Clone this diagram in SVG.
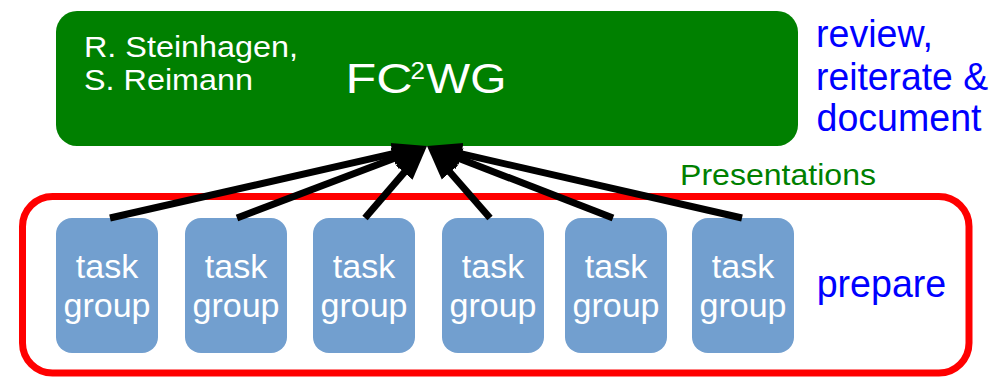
<svg xmlns="http://www.w3.org/2000/svg" width="999" height="377" viewBox="0 0 999 377">
<style>
text { font-family: "Liberation Sans", Arial, sans-serif; }
.white { fill: #ffffff; }
.blue { fill: #0000ff; }
.tg { fill: #729fcf; }
.tgt { fill: #ffffff; font-size: 34px; text-anchor: middle; }
.arrow { stroke: #000000; stroke-width: 7; fill: none; marker-end: url(#head); }
</style>
<defs>
<marker id="head" markerUnits="userSpaceOnUse" markerWidth="36" markerHeight="24" viewBox="0 0 36 24" refX="15" refY="12" orient="auto">
<path d="M0,1 L35,12 L0,23 z" fill="#000000"/>
</marker>
</defs>
<g id="fc2wg">
<rect x="56" y="11" width="742" height="135" rx="21" ry="21" fill="#008000"/>
<text class="white" x="84" y="56.5" font-size="29" textLength="214" lengthAdjust="spacingAndGlyphs">R. Steinhagen,</text>
<text class="white" x="84" y="90" font-size="29" textLength="169" lengthAdjust="spacingAndGlyphs">S. Reimann</text>
<text class="white" x="345.6" y="93" font-size="42" textLength="67" lengthAdjust="spacingAndGlyphs">FC</text>
<text class="white" x="410.5" y="79" font-size="23" textLength="14.5" lengthAdjust="spacingAndGlyphs">2</text>
<text class="white" x="426.3" y="93" font-size="42" textLength="80" lengthAdjust="spacingAndGlyphs">WG</text>
</g>
<g id="review-label">
<text class="blue" x="816" y="47" font-size="39" textLength="117" lengthAdjust="spacingAndGlyphs">review,</text>
<text class="blue" x="816" y="90" font-size="39" textLength="172" lengthAdjust="spacingAndGlyphs">reiterate &amp;</text>
<text class="blue" x="816.5" y="131" font-size="39" textLength="165" lengthAdjust="spacingAndGlyphs">document</text>
</g>
<g id="presentations-label">
<text x="680" y="185" font-size="30" fill="#008000" textLength="196" lengthAdjust="spacingAndGlyphs">Presentations</text>
</g>
<g id="prepare-frame">
<rect x="22.5" y="196.5" width="946.5" height="176.5" rx="30" ry="30" fill="none" stroke="#ff0000" stroke-width="7"/>
<text class="blue" x="816.7" y="297" font-size="39" textLength="129.6" lengthAdjust="spacingAndGlyphs">prepare</text>
</g>
<g id="tg1"><rect class="tg" x="56" y="218" width="102" height="135" rx="16"/><text class="tgt" x="107" y="278">task</text><text class="tgt" x="107" y="317">group</text></g>
<g id="tg2"><rect class="tg" x="185" y="218" width="102" height="135" rx="16"/><text class="tgt" x="236" y="278">task</text><text class="tgt" x="236" y="317">group</text></g>
<g id="tg3"><rect class="tg" x="313" y="218" width="102" height="135" rx="16"/><text class="tgt" x="364" y="278">task</text><text class="tgt" x="364" y="317">group</text></g>
<g id="tg4"><rect class="tg" x="442" y="218" width="102" height="135" rx="16"/><text class="tgt" x="493" y="278">task</text><text class="tgt" x="493" y="317">group</text></g>
<g id="tg5"><rect class="tg" x="565" y="218" width="102" height="135" rx="16"/><text class="tgt" x="616" y="278">task</text><text class="tgt" x="616" y="317">group</text></g>
<g id="tg6"><rect class="tg" x="692" y="218" width="102" height="135" rx="16"/><text class="tgt" x="743" y="278">task</text><text class="tgt" x="743" y="317">group</text></g>
<g id="connectors">
<line class="arrow" x1="110" y1="218" x2="407.5" y2="150.43"/>
<line class="arrow" x1="237" y1="218" x2="408.3" y2="153.09"/>
<line class="arrow" x1="365" y1="218" x2="413.95" y2="161.15"/>
<line class="arrow" x1="490" y1="218" x2="440.17" y2="161.05"/>
<line class="arrow" x1="613" y1="218" x2="445.65" y2="153.22"/>
<line class="arrow" x1="742" y1="218" x2="446.5" y2="150.46"/>
</g>
</svg>
